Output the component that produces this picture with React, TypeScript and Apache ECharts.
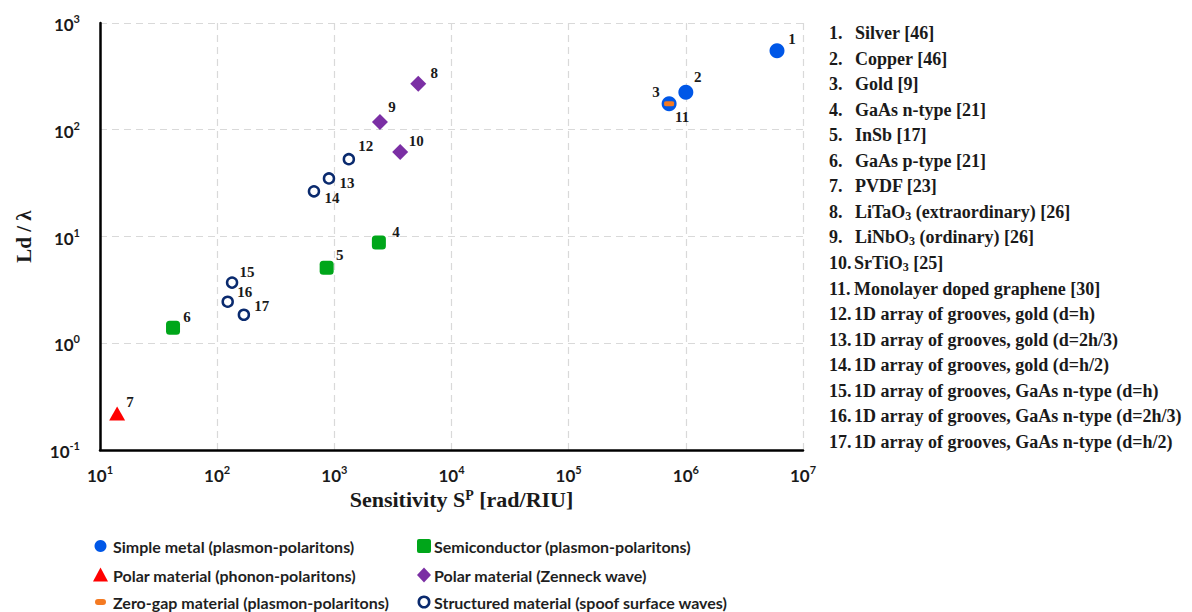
import React, { useEffect, useRef } from "react";
import * as echarts from "echarts";

// ---- data ----
const metalIds = ["1", "2", "3"];
const metalX = [6.0e6, 1.0e6, 7.2e5];
const metalY = [550, 225, 175];

const zeroGapIds = ["11"];
const zeroGapX = [7.2e5];
const zeroGapY = [175];

const semiIds = ["4", "5", "6"];
const semiX = [2400, 860, 42];
const semiY = [8.8, 5.1, 1.4];

const phononIds = ["7"];
const phononX = [14];
const phononY = [0.22];

const zenneckIds = ["8", "9", "10"];
const zenneckX = [5200, 2450, 3650];
const zenneckY = [270, 118, 62];

const structIds = ["12", "13", "14", "15", "16", "17"];
const structX = [1330, 900, 670, 134, 123, 169];
const structY = [53, 35, 26.5, 3.7, 2.45, 1.85];

const seriesNames = [
  "Simple metal (plasmon-polaritons)",
  "Semiconductor (plasmon-polaritons)",
  "Polar material (phonon-polaritons)",
  "Polar material (Zenneck wave)",
  "Zero-gap material (plasmon-polaritons)",
  "Structured material (spoof surface waves)",
];

const refNumbers = ["1.", "2.", "3.", "4.", "5.", "6.", "7.", "8.", "9.", "10.", "11.", "12.", "13.", "14.", "15.", "16.", "17."];
const refTexts = [
  "Silver [46]",
  "Copper [46]",
  "Gold [9]",
  "GaAs n-type [21]",
  "InSb [17]",
  "GaAs p-type [21]",
  "PVDF [23]",
  "LiTaO{s|3} (extraordinary) [26]",
  "LiNbO{s|3} (ordinary) [26]",
  "SrTiO{s|3} [25]",
  "Monolayer doped graphene [30]",
  "1D array of grooves, gold (d=h)",
  "1D array of grooves, gold (d=2h/3)",
  "1D array of grooves, gold (d=h/2)",
  "1D array of grooves, GaAs n-type (d=h)",
  "1D array of grooves, GaAs n-type (d=2h/3)",
  "1D array of grooves, GaAs n-type (d=h/2)",
];

// ---- styles ----
const labelOffsets: Record<string, [number, number]> = {
  "1": [15, -12], "2": [12, -15], "3": [-13, -12], "11": [13, 13],
  "4": [17, -10], "5": [13, -13], "6": [14, -11], "7": [13, -11],
  "8": [16, -11], "9": [12, -15], "10": [16, -11], "12": [17, -13],
  "13": [18, 5], "14": [18, 7], "15": [15, -11], "16": [17, -10], "17": [18, -9],
};

const COLORS = ["#0057e7", "#00a61a", "#ff0000", "#7b2fa4", "#f47a22", "#0a2a6e"];
const SERIF = "'Liberation Serif', 'DejaVu Serif', serif";
const SANS = "Lato, 'Open Sans', sans-serif";

function buildData(ids: string[], xs: number[], ys: number[]) {
  return ids.map((id, i) => ({
    name: id,
    value: [xs[i], ys[i]],
    label: { offset: labelOffsets[id] },
  }));
}

const pointLabel = {
  show: true,
  position: "inside",
  align: "center",
  verticalAlign: "middle",
  formatter: (p: any) => p.name,
  fontFamily: SERIF,
  fontSize: 15,
  fontWeight: 600,
  color: "#1a1a1a",
  textBorderWidth: 0,
  textBorderColor: "transparent",
};

function supLabel(v: number) {
  const e = Math.round(Math.log10(v));
  return `{b|10}{s|${e < 0 ? "-" + Math.abs(e) : e}}`;
}

const tickRich = {
  b: { fontSize: 17, fontWeight: "bold", fontFamily: SANS, color: "#1a1a1a", lineHeight: 20, verticalAlign: "bottom" },
  s: { fontSize: 11, fontWeight: "bold", fontFamily: SANS, color: "#1a1a1a", lineHeight: 12, verticalAlign: "top" },
};

export default function App() {
  const ref = useRef<HTMLDivElement>(null);
  useEffect(() => {
    if (!ref.current) return;
    const chart = echarts.init(ref.current, undefined, { renderer: "svg" });

    const graphics: any[] = [];
    // reference list on the right
    refTexts.forEach((t, i) => {
      const y = 33 + i * 25.56;
      graphics.push({
        type: "text",
        x: 829,
        y: y,
        style: { text: refNumbers[i], fontFamily: SERIF, fontWeight: "bold", fontSize: 18, fill: "#1a1a1a", verticalAlign: "middle" },
      });
      graphics.push({
        type: "text",
        x: i < 9 ? 855 : 854,
        y: y,
        style: {
          text: t,
          fontFamily: SERIF,
          fontWeight: "bold",
          fontSize: 18,
          fill: "#1a1a1a",
          verticalAlign: "middle",
          lineHeight: 20,
          rich: {
            s: { fontFamily: SERIF, fontWeight: "bold", fontSize: 12, lineHeight: 12, verticalAlign: "bottom", fill: "#1a1a1a" },
          },
        },
      });
    });

    // legend (drawn manually for exact spacing)
    const legendRows = [546, 575, 602];
    const colIcon = [100.5, 424];
    const colText = [113, 434];
    const legendIcons: any[] = [
      { type: "circle", shape: { cx: 0, cy: 0, r: 6 }, style: { fill: COLORS[0] } },
      { type: "rect", shape: { x: -7, y: -7, width: 14, height: 14, r: 2 }, style: { fill: COLORS[1] } },
      { type: "polygon", shape: { points: [[0, -7.5], [7.5, 6.5], [-7.5, 6.5]] }, style: { fill: COLORS[2] } },
      { type: "polygon", shape: { points: [[0, -7.5], [7, 0], [0, 7.5], [-7, 0]] }, style: { fill: COLORS[3] } },
      { type: "rect", shape: { x: -5.5, y: -3, width: 11, height: 6, r: 3 }, style: { fill: COLORS[4] } },
      { type: "circle", shape: { cx: 0, cy: 0, r: 5.2 }, style: { fill: "#fff", stroke: COLORS[5], lineWidth: 2.6 } },
    ];
    seriesNames.forEach((n, i) => {
      const row = Math.floor(i / 2);
      const col = i % 2;
      const ic = legendIcons[i];
      graphics.push({ ...ic, x: colIcon[col], y: legendRows[row] });
      graphics.push({
        type: "text",
        x: colText[col],
        y: legendRows[row],
        style: {
          text: n,
          fontFamily: SANS,
          fontWeight: "bold",
          fontSize: 16,
          lineHeight: 16,
          fill: "#1f1f1f",
          verticalAlign: "middle",
        },
      });
    });

    chart.setOption({
      animation: false,
      backgroundColor: "#ffffff",
      grid: { left: 100, right: 389, top: 23, bottom: 162, containLabel: false },
      graphic: graphics,
      xAxis: {
        type: "log",
        logBase: 10,
        min: 10,
        max: 1e7,
        name: "Sensitivity S{p|P} [rad/RIU]",
        nameLocation: "middle",
        nameGap: 38,
        nameTextStyle: {
          fontFamily: SERIF,
          fontWeight: "bold",
          fontSize: 22,
          color: "#1a1a1a",
          padding: [0, 0, 0, 20],
          rich: {
            p: { fontFamily: SERIF, fontWeight: "bold", fontSize: 14, lineHeight: 12, verticalAlign: "top", color: "#1a1a1a" },
          },
        },
        axisLine: { show: true, lineStyle: { color: "#000", width: 2.5 } },
        axisTick: { show: false },
        splitLine: { show: true, lineStyle: { color: "#d9d9d9", type: [7, 5], width: 1.2 } },
        minorSplitLine: { show: false },
        axisLabel: { margin: 14, formatter: supLabel, rich: tickRich },
      },
      yAxis: {
        type: "log",
        logBase: 10,
        min: 0.1,
        max: 1000,
        name: "Ld / λ",
        nameLocation: "middle",
        nameGap: 66,
        nameRotate: 90,
        nameTextStyle: { fontFamily: SERIF, fontWeight: "bold", fontSize: 21, color: "#1a1a1a" },
        axisLine: { show: true, lineStyle: { color: "#000", width: 2.5 } },
        axisTick: { show: false },
        splitLine: { show: true, lineStyle: { color: "#d9d9d9", type: [7, 5], width: 1.2 } },
        axisLabel: { margin: 20, formatter: supLabel, rich: tickRich },
      },
      series: [
        {
          name: seriesNames[0],
          type: "scatter",
          symbol: "circle",
          symbolSize: 15,
          itemStyle: { color: COLORS[0], opacity: 1 },
          label: pointLabel,
          data: buildData(metalIds, metalX, metalY),
          z: 3,
        },
        {
          name: seriesNames[1],
          type: "scatter",
          symbol: "roundRect",
          symbolSize: 14,
          itemStyle: { color: COLORS[1], opacity: 1 },
          label: pointLabel,
          data: buildData(semiIds, semiX, semiY),
        },
        {
          name: seriesNames[2],
          type: "scatter",
          symbol: "triangle",
          symbolSize: [16, 14],
          itemStyle: { color: COLORS[2], opacity: 1 },
          label: pointLabel,
          data: buildData(phononIds, phononX, phononY),
        },
        {
          name: seriesNames[3],
          type: "scatter",
          symbol: "diamond",
          symbolSize: 16,
          itemStyle: { color: COLORS[3], opacity: 1 },
          label: pointLabel,
          data: buildData(zenneckIds, zenneckX, zenneckY),
        },
        {
          name: seriesNames[4],
          type: "scatter",
          symbol: "roundRect",
          symbolSize: [10, 5],
          itemStyle: { color: COLORS[4], opacity: 1 },
          label: pointLabel,
          data: buildData(zeroGapIds, zeroGapX, zeroGapY),
          z: 4,
        },
        {
          name: seriesNames[5],
          type: "scatter",
          symbol: "circle",
          symbolSize: 10,
          itemStyle: { color: "#ffffff", borderColor: COLORS[5], borderWidth: 2.5, opacity: 1 },
          label: pointLabel,
          data: buildData(structIds, structX, structY),
        },
      ],
    });
    return () => chart.dispose();
  }, []);

  return (
    <div
      ref={ref}
      style={{ position: "fixed", left: 0, top: 0, width: 1192, height: 612, background: "#fff" }}
    />
  );
}
